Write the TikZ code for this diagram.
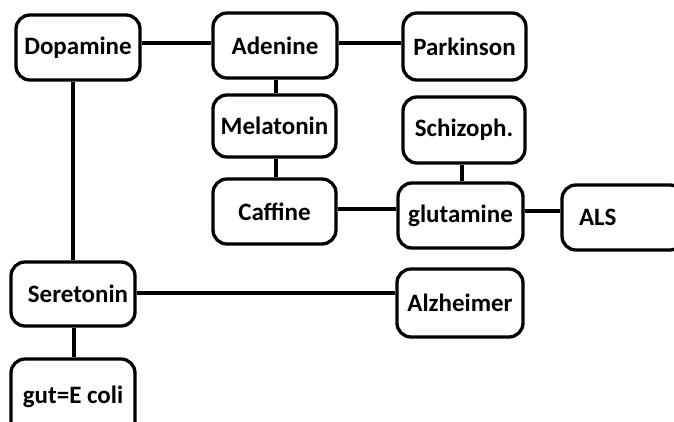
\documentclass[tikz,border=0pt]{standalone}
\usepackage{fontspec}
\setmainfont{Carlito}
\begin{document}
\begin{tikzpicture}[x=1pt,y=-1pt,
  box/.style={draw=black, line width=3.3pt, rounded corners=14pt, fill=white,
    minimum width=124pt, minimum height=65pt, inner sep=0pt,
    font=\fontsize{25}{28}\selectfont\bfseries},
  link/.style={draw=black, line width=3.2pt}]
\useasboundingbox[fill=white] (0,0) rectangle (674,421);
\node[box] (Dopamine) at (78,47.5) {Dopamine};
\node[box] (Adenine) at (275,45.5) {Adenine};
\node[box, minimum width=123pt, minimum height=67pt] (Parkinson) at (464.5,46.5) {Parkinson};
\node[box, minimum width=123pt, minimum height=62pt] (Melatonin) at (274.5,126) {Melatonin};
\node[box, minimum width=122pt, minimum height=66pt] (Schizoph) at (464,130) {Schizoph.};
\node[box, minimum width=123pt] (Caffine) at (274.5,211.5) {Caffine};
\node[box, minimum width=125pt] (glutamine) at (460.5,215.5) {glutamine};
\node[box, minimum width=122pt, text width=88pt, align=left, inner xsep=17pt] (ALS) at (623,217.5) {ALS};
\node[box, minimum height=64pt] (Seretonin) at (73,294) {\hspace{10pt}Seretonin};
\node[box, minimum width=126pt, minimum height=68pt] (Alzheimer) at (460,303) {Alzheimer};
\node[box, minimum height=84pt] (gut) at (73,401) {\raisebox{12pt}{gut=E coli}};
\draw[link] (Dopamine.east |- 0,43) -- (Adenine.west |- 0,43);
\draw[link] (Adenine.east |- 0,43) -- (Parkinson.west |- 0,43);
\draw[link] (Adenine.south -| 276,0) -- (Melatonin.north -| 276,0);
\draw[link] (Melatonin.south -| 276,0) -- (Caffine.north -| 276,0);
\draw[link] (Caffine.east |- 0,209) -- (glutamine.west |- 0,209);
\draw[link] (glutamine.east |- 0,211) -- (ALS.west |- 0,211);
\draw[link] (Schizoph.south -| 462,0) -- (glutamine.north -| 462,0);
\draw[link] (Dopamine.south -| 73,0) -- (Seretonin.north -| 73,0);
\draw[link] (Seretonin.south -| 74,0) -- (gut.north -| 74,0);
\draw[link] (Seretonin.east |- 0,293) -- (Alzheimer.west |- 0,293);
\end{tikzpicture}
\end{document}
